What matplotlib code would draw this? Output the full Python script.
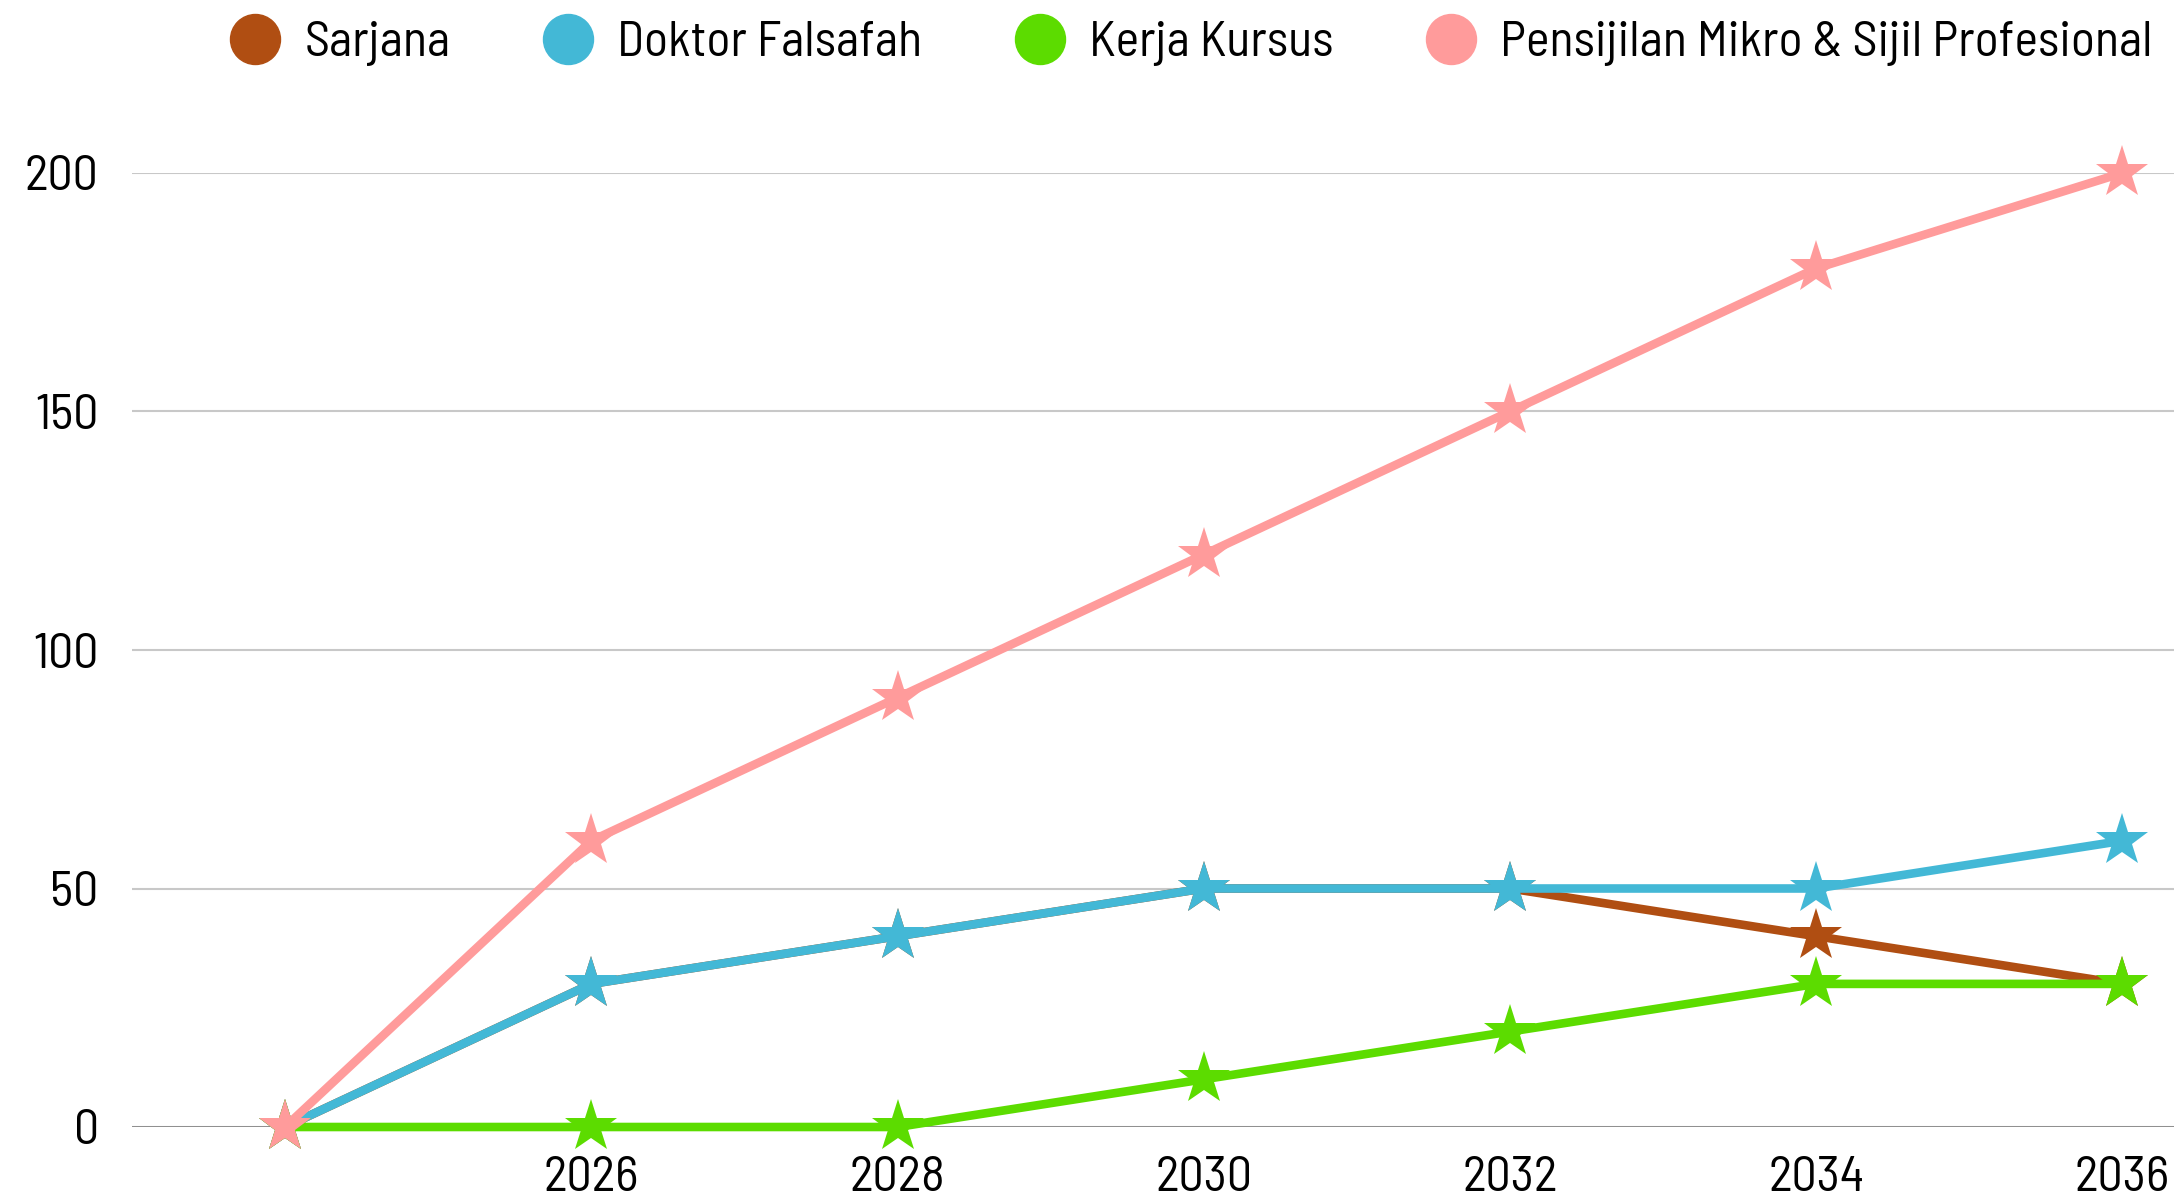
import matplotlib
matplotlib.use("Agg")
import matplotlib.pyplot as plt
from matplotlib.lines import Line2D

plt.rcParams['font.family'] = ['Barlow Semi Condensed', 'Barlow', 'DejaVu Sans']

# data
years = [2024, 2026, 2028, 2030, 2032, 2034, 2036]
tick_years = [2026, 2028, 2030, 2032, 2034, 2036]
series_names = ['Sarjana', 'Doktor Falsafah', 'Kerja Kursus',
                'Pensijilan Mikro & Sijil Profesional']
sarjana = [0, 30, 40, 50, 50, 40, 30]
doktor = [0, 30, 40, 50, 50, 50, 60]
kerja = [0, 0, 0, 10, 20, 30, 30]
pensijilan = [0, 60, 90, 120, 150, 180, 200]
colors = ['#B04E12', '#43B8D6', '#5CDC00', '#FF9B9B']

W, H = 2174, 1197
fig = plt.figure(figsize=(W / 100, H / 100), dpi=100)
# axes: x from 2023 to 2037 (right part runs past the figure edge)
x0, x1 = 132, 132 + 14 * 153.1
y0, y1 = 1127, 173
ax = fig.add_axes([x0 / W, 1 - y0 / H, (x1 - x0) / W, (y0 - y1) / H])

for vals, c in zip([sarjana, doktor, kerja, pensijilan], colors):
    ax.plot(years, vals, color=c, lw=6.2, marker='*', ms=40,
            markeredgewidth=0, clip_on=False, solid_joinstyle='miter')

ax.set_xlim(2023, 2037)
ax.set_ylim(0, 200)
ax.set_yticks([0, 50, 100, 150, 200])
ax.set_xticks(tick_years)
ax.set_xticklabels([str(y) for y in tick_years])
ax.grid(axis='y', color='#C8C8C8', lw=1.5, zorder=0)
ax.set_axisbelow(True)
for s in ax.spines.values():
    s.set_visible(False)
ax.axhline(0, color='#8A8A8A', lw=2, zorder=1)
ax.tick_params(length=0, labelsize=36, colors='black')
ax.tick_params(axis='y', pad=24)
ax.tick_params(axis='x', pad=21)

handles = [Line2D([], [], ls='none', marker='o', ms=36, color=c) for c in colors]
fig.legend(handles, series_names, loc='center', bbox_to_anchor=(0.548, 1 - 44 / H),
           ncol=4, frameon=False, fontsize=36, handletextpad=0.48,
           columnspacing=1.85, handlelength=1.0, borderpad=0)

fig.savefig('out.png', dpi=100)
